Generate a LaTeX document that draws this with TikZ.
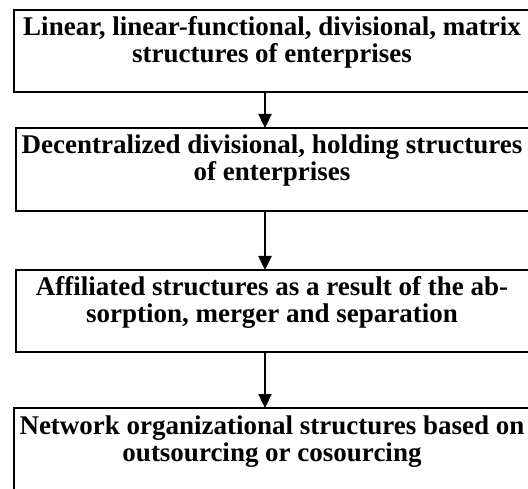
\documentclass[tikz,border=0pt]{standalone}
\usepackage{fontspec}
\setmainfont{Liberation Serif}
\usetikzlibrary{arrows.meta,calc}
\begin{document}
\begin{tikzpicture}[x=1pt,y=-1pt,
  box/.style={draw=black, line width=2.6pt, outer sep=0pt, inner sep=0pt, anchor=north west},
  txt/.style={anchor=base, inner sep=0pt, font=\fontsize{27}{27}\selectfont\bfseries},
  flow/.style={line width=2.4pt, -{Triangle[length=14pt,width=13pt]}}]
\useasboundingbox (0,0) rectangle (528,489);
\clip (0,0) rectangle (528,489);
\node[box, minimum width=516, minimum height=82] (b1) at (14,10) {};
\node[box, minimum width=516, minimum height=83] (b2) at (16,128) {};
\node[box, minimum width=516, minimum height=82] (b3) at (16,270) {};
\node[box, minimum width=518, minimum height=100] (b4) at (14,408) {};
\node[txt] (t1a) at (272,36) {Linear, linear-functional, divisional, matrix};
\node[txt] (t1b) at (272,63) {structures of enterprises};
\node[txt] (t2a) at (272,154) {Decentralized divisional, holding structures};
\node[txt] (t2b) at (272,181) {of enterprises};
\node[txt] (t3a) at (272,296) {Affiliated structures as a result of the ab-};
\node[txt] (t3b) at (272,323) {sorption, merger and separation};
\node[txt] (t4a) at (272,434) {Network organizational structures based on};
\node[txt] (t4b) at (272,461) {outsourcing or cosourcing};
\coordinate (a1s) at (265,92);
\draw[flow] (b1.south -| a1s) -- (b2.north -| a1s);
\draw[flow] (b2.south -| a1s) -- (b3.north -| a1s);
\draw[flow] (b3.south -| a1s) -- (b4.north -| a1s);
\end{tikzpicture}
\end{document}
